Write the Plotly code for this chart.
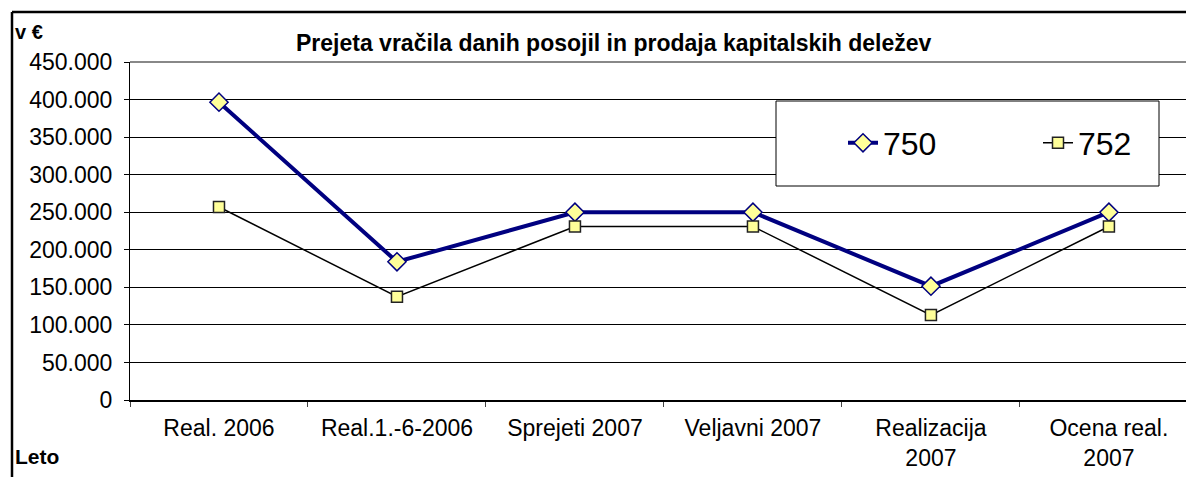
import plotly.graph_objects as go

# chart data
categories = ['Real. 2006', 'Real.1.-6-2006', 'Sprejeti 2007', 'Veljavni 2007',
              'Realizacija<br>2007', 'Ocena real.<br>2007']
s750 = [396500, 184000, 250000, 250000, 151500, 250000]
s752 = [257000, 137500, 231000, 231000, 113000, 231000]

# the page body has an 8px margin, so the figure is drawn 8px in from the window corner
OFF = 8
W, H = 1194 - OFF, 477 - OFF
ML, MR, MT, MB = 130 - OFF, 0, 62 - OFF, 77


def px(x):
    '''window pixel x -> paper x'''
    return (x - OFF - ML) / (W - ML - MR)


def py(y):
    '''window pixel y -> paper y'''
    return (H - MB - (y - OFF)) / (H - MT - MB)


FONT = 'Liberation Sans, Arial, sans-serif'

fig = go.Figure()
fig.add_trace(go.Scatter(
    x=categories, y=s750, name='750', mode='lines+markers',
    line=dict(color='#000080', width=4),
    marker=dict(symbol='diamond', size=14, color='#FFFF99',
                line=dict(color='#000080', width=1.5))))
fig.add_trace(go.Scatter(
    x=categories, y=s752, name='752', mode='lines+markers',
    line=dict(color='black', width=1.5),
    marker=dict(symbol='square', size=11, color='#FFFF99',
                line=dict(color='#222222', width=1.5))))

fig.update_layout(
    width=W, height=H,
    margin=dict(l=ML, r=MR, t=MT, b=MB, pad=0, autoexpand=False),
    paper_bgcolor='white', plot_bgcolor='white',
    separators=',.',
    font=dict(family=FONT, size=22, color='black'),
    showlegend=True,
    legend=dict(orientation='h', x=px(843), y=py(143), xanchor='left', yanchor='middle',
                font=dict(size=32, family=FONT), bgcolor='rgba(0,0,0,0)',
                borderwidth=0, entrywidth=150, entrywidthmode='pixels'),
)

fig.update_xaxes(
    type='category', range=[-0.5, 5.478], showgrid=False, automargin=False,
    showline=True, linecolor='black', linewidth=1.5, tickangle=0,
    ticks='outside', tickson='boundaries', ticklen=5, tickcolor='#444',
    tickfont=dict(size=23, family=FONT), ticklabelstandoff=7)
fig.update_yaxes(
    range=[0, 450000], dtick=50000, tickformat=',d', automargin=False,
    showgrid=True, gridcolor='black', gridwidth=1, zeroline=False,
    showline=True, linecolor='black', linewidth=1,
    ticks='outside', ticklen=5, tickcolor='black',
    tickfont=dict(size=23, family=FONT), ticklabelstandoff=7)

shapes = [
    # plot area top border
    dict(type='line', xref='paper', yref='paper', x0=0, x1=1, y0=1, y1=1,
         line=dict(color='#888888', width=2)),
    # legend box
    dict(type='rect', xref='paper', yref='paper', x0=px(776), x1=px(1159),
         y0=py(186), y1=py(101), fillcolor='white', layer='above',
         line=dict(color='black', width=1)),
    # outer chart border (left and top edges)
    dict(type='line', xref='paper', yref='paper', x0=px(12), x1=px(12),
         y0=py(12), y1=py(480), line=dict(color='black', width=2.5)),
    dict(type='line', xref='paper', yref='paper', x0=px(12), x1=px(1200),
         y0=py(12), y1=py(12), line=dict(color='black', width=2.5)),
]
fig.update_layout(shapes=shapes)

fig.add_annotation(text='<b>Prejeta vračila danih posojil in prodaja kapitalskih deležev</b>',
                   xref='paper', yref='paper', x=px(613), y=py(43),
                   xanchor='center', yanchor='middle', showarrow=False,
                   font=dict(size=23, family=FONT))
fig.add_annotation(text='<b>v €</b>', xref='paper', yref='paper', x=px(13), y=py(32),
                   xanchor='left', yanchor='middle', showarrow=False,
                   font=dict(size=20, family=FONT))
fig.add_annotation(text='<b>Leto</b>', xref='paper', yref='paper', x=px(13), y=py(456),
                   xanchor='left', yanchor='middle', showarrow=False,
                   font=dict(size=21, family=FONT))

fig.write_html('out.html')
